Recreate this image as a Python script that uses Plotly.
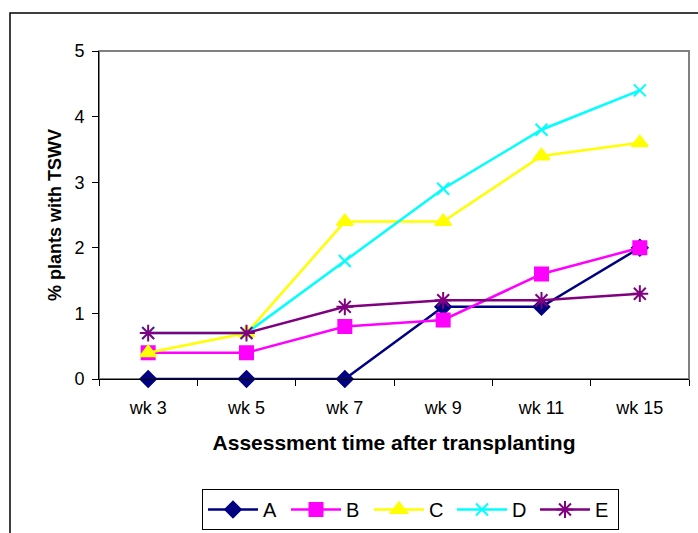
import plotly.graph_objects as go

weeks = ["wk 3", "wk 5", "wk 7", "wk 9", "wk 11", "wk 15"]
series_names = ["A", "B", "C", "D", "E"]
A = [0, 0, 0, 1.1, 1.1, 2.0]
B = [0.4, 0.4, 0.8, 0.9, 1.6, 2.0]
C = [0.4, 0.7, 2.4, 2.4, 3.4, 3.6]
D = [0.7, 0.7, 1.8, 2.9, 3.8, 4.4]
E = [0.7, 0.7, 1.1, 1.2, 1.2, 1.3]
y_ticks = [0, 1, 2, 3, 4, 5]

values = [A, B, C, D, E]
colors = ["#000080", "#FF00FF", "#FFFF00", "#00FFFF", "#800080"]
symbols = ["diamond", "square", "triangle-up", "x-thin-open", "asterisk-open"]
sizes = [12, 13, 14, 12, 14]

W, H = 698, 533
L, R, T, B_ = 99, 689, 51, 379

fig = go.Figure()
for name, vals, col, sym, sz in zip(series_names, values, colors, symbols, sizes):
    fig.add_trace(go.Scatter(
        x=weeks, y=vals, name=name, mode="lines+markers", cliponaxis=False,
        line=dict(color=col, width=2.5),
        marker=dict(symbol=sym, size=sz, color=col, line=dict(color=col, width=2)),
    ))

def px(x):
    return (x - L) / (R - L)

def py(y):
    return (B_ - y) / (B_ - T)

fig.update_layout(
    width=W, height=H,
    margin=dict(l=L, r=W - R, t=T, b=H - B_, autoexpand=False),
    paper_bgcolor="white", plot_bgcolor="white",
    font=dict(family="Liberation Sans, Arial, sans-serif", color="black", size=16),
    showlegend=True,
    legend=dict(
        orientation="h", x=px(202), y=py(489), xanchor="left", yanchor="top",
        bordercolor="black", borderwidth=1, font=dict(size=20),
        itemwidth=50, entrywidth=18, entrywidthmode="pixels", tracegroupgap=0,
    ),
    xaxis=dict(
        showgrid=False, showline=True, linecolor="black", linewidth=1,
        ticks="outside", ticklen=6, tickcolor="black", tickson="boundaries",
        tickfont=dict(size=18), range=[-0.5, 5.5], ticklabelstandoff=12,
        title=dict(text="<b>Assessment time after transplanting</b>", font=dict(size=21), standoff=18),
    ),
    yaxis=dict(
        range=[0, 5], tickvals=y_ticks, showgrid=False, showline=True,
        linecolor="black", linewidth=1, ticks="outside", ticklen=6,
        tickcolor="black", tickfont=dict(size=18), zeroline=False,
        ticklabelstandoff=4,
        title=dict(text="<b>% plants with TSWV</b>", font=dict(size=18), standoff=8),
    ),
    shapes=[
        dict(type="rect", xref="paper", yref="paper", x0=0, x1=1, y0=0, y1=1,
             line=dict(color="#808080", width=2), layer="below"),
        dict(type="rect", xref="paper", yref="paper", x0=px(10), x1=px(720),
             y0=py(560), y1=py(13), line=dict(color="black", width=1.5), layer="below"),
    ],
)

fig.write_html("out.html")
